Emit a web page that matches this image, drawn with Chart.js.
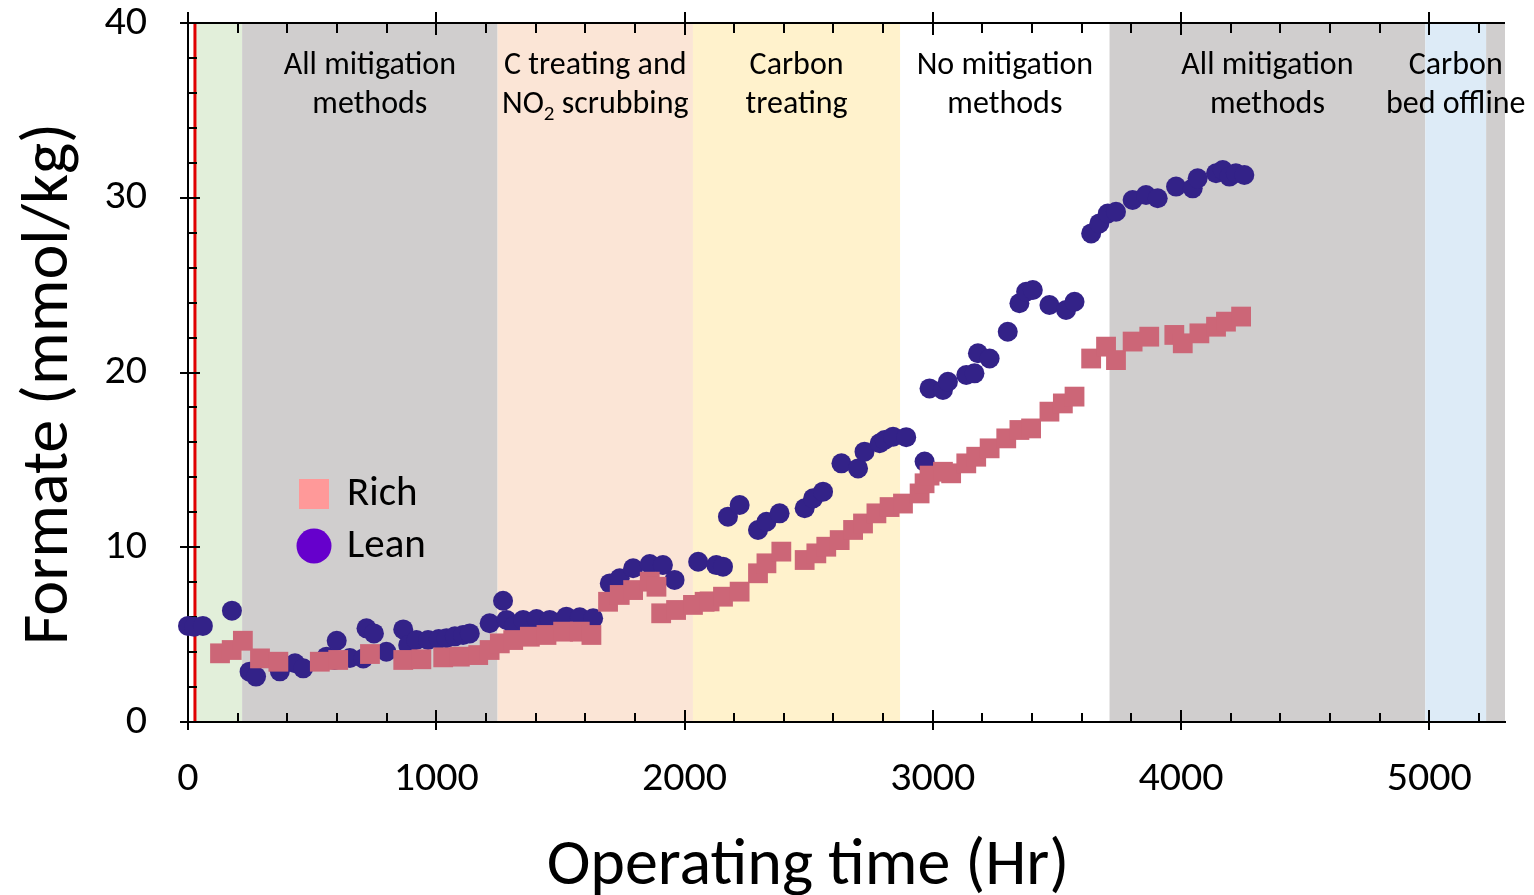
<!DOCTYPE html>
<html>
<head>
<meta charset="utf-8">
<script src="https://cdn.jsdelivr.net/npm/chart.js@4/dist/chart.umd.min.js"></script>
<style>
  html, body { margin: 0; padding: 0; background: #fff; }
  #wrap { width: 1534px; height: 895px; }
</style>
</head>
<body>
<div id="wrap"><canvas id="c" width="1534" height="895"></canvas></div>
<script>
const FONT = "Carlito, Lato, 'Open Sans', sans-serif";

// Formate in the rich amine (mmol/kg) against operating hours
const richTime = [129, 176, 221, 290, 364, 531, 605, 733, 867, 940, 1028, 1095, 1169, 1215,
  1256, 1310, 1377, 1444, 1511, 1578, 1625, 1692, 1739, 1793, 1860, 1887, 1906, 1966, 2034,
  2081, 2101, 2155, 2222, 2296, 2330, 2390, 2484, 2531, 2571, 2625, 2679, 2719, 2773, 2826,
  2880, 2947, 2967, 2987, 3041, 3074, 3135, 3175, 3229, 3296, 3349, 3396, 3470, 3524, 3571,
  3638, 3698, 3738, 3805, 3872, 3973, 4007, 4074, 4141, 4181, 4242];
const richFormate = [3.93, 4.12, 4.65, 3.64, 3.45, 3.45, 3.55, 3.89, 3.55, 3.59, 3.70, 3.74, 3.83, 4.12,
  4.50, 4.69, 4.88, 4.98, 5.17, 5.17, 4.98, 6.88, 7.27, 7.55, 8.03, 7.74, 6.22, 6.41, 6.70,
  6.88, 6.90, 7.17, 7.46, 8.51, 9.08, 9.75, 9.27, 9.65, 10.03, 10.41, 10.99, 11.36, 11.94, 12.30,
  12.50, 13.08, 13.66, 14.10, 14.32, 14.23, 14.80, 15.18, 15.66, 16.23, 16.71, 16.80, 17.76, 18.23, 18.62,
  20.80, 21.48, 20.71, 21.77, 22.05, 22.15, 21.67, 22.24, 22.62, 22.91, 23.20];

// Formate in the lean amine (mmol/kg) against operating hours
const leanTime = [0, 25, 60, 177, 248, 274, 370, 431, 464, 558, 591, 599, 652, 706, 719, 749,
  799, 867, 887, 920, 967, 1010, 1041, 1075, 1108, 1135, 1215, 1269, 1283, 1313, 1350, 1404,
  1457, 1524, 1578, 1632, 1699, 1739, 1793, 1860, 1913, 1960, 2055, 2128, 2155, 2175, 2222,
  2296, 2330, 2383, 2484, 2518, 2558, 2632, 2699, 2725, 2786, 2806, 2840, 2893, 2967, 2987,
  3041, 3061, 3135, 3168, 3182, 3229, 3302, 3349, 3376, 3403, 3470, 3537, 3571, 3638, 3671,
  3705, 3738, 3805, 3859, 3906, 3980, 4047, 4067, 4141, 4168, 4195, 4221, 4255];
const leanFormate = [5.50, 5.45, 5.50, 6.37, 2.88, 2.60, 2.90, 3.36, 3.07, 3.74, 3.55, 4.65, 3.66, 3.64, 5.36, 5.07,
  4.02, 5.30, 4.40, 4.69, 4.69, 4.75, 4.79, 4.90, 4.98, 5.07, 5.65, 6.94, 5.84, 5.50, 5.84, 5.89,
  5.84, 6.03, 5.99, 5.93, 7.93, 8.22, 8.80, 9.04, 8.98, 8.13, 9.17, 8.98, 8.89, 11.75, 12.42,
  10.99, 11.46, 11.94, 12.23, 12.80, 13.18, 14.80, 14.51, 15.47, 15.95, 16.14, 16.33, 16.30, 14.90, 19.09,
  19.00, 19.47, 19.86, 19.95, 21.10, 20.80, 22.33, 23.96, 24.62, 24.72, 23.86, 23.58, 24.05, 27.96, 28.53,
  29.10, 29.20, 29.87, 30.16, 29.97, 30.64, 30.54, 31.11, 31.40, 31.59, 31.21, 31.40, 31.30];

// Operating periods (hours) and their labels
const bandStart = [30, 218, 1247, 2034, 2869, 3712, 4984, 5229];
const bandEnd   = [218, 1247, 2034, 2869, 3712, 4984, 5229, 5305];
const bandColor = ['#E2EFDA', '#D0CECE', '#FBE5D6', '#FFF2CC', '#FFFFFF', '#D0CECE', '#DDEBF7', '#D0CECE'];
const bandLabel = [null, ['All mitigation', 'methods'], ['C treating and', 'NO\u2082 scrubbing'],
  ['Carbon', 'treating'], ['No mitigation', 'methods'], ['All mitigation', 'methods'],
  ['Carbon', 'bed offline'], null];
const startupTime = 28;

const xTicks = [0, 1000, 2000, 3000, 4000, 5000];
const yTicks = [0, 10, 20, 30, 40];
const xMax = 5305, yMax = 40, xMinorStep = 200, yMinorStep = 2;

const seriesNames = ['Rich', 'Lean'];
const legendColors = ['#FF9999', '#6600CC'];

const toPoints = (xs, ys) => xs.map((x, i) => ({ x: x, y: ys[i] }));

// Draw a line of text that may contain a subscript 2
function drawLabelLine(ctx, text, cx, cy, size) {
  const parts = text.split('\u2082');
  const subSize = Math.round(size * 0.65);
  let total = 0;
  parts.forEach((p, i) => {
    ctx.font = size + 'px ' + FONT;
    total += ctx.measureText(p).width;
    if (i < parts.length - 1) { ctx.font = subSize + 'px ' + FONT; total += ctx.measureText('2').width; }
  });
  let x = cx - total / 2;
  ctx.textAlign = 'left';
  ctx.textBaseline = 'middle';
  parts.forEach((p, i) => {
    ctx.font = size + 'px ' + FONT;
    ctx.fillText(p, x, cy);
    x += ctx.measureText(p).width;
    if (i < parts.length - 1) {
      ctx.font = subSize + 'px ' + FONT;
      ctx.fillText('2', x, cy + size * 0.3);
      x += ctx.measureText('2').width;
    }
  });
}

const framePlugin = {
  id: 'frame',
  beforeDraw(chart) {
    const { ctx, chartArea: a, scales: { x } } = chart;
    ctx.save();
    ctx.fillStyle = '#fff';
    ctx.fillRect(0, 0, chart.width, chart.height);
    bandStart.forEach((s, i) => {
      const x0 = x.getPixelForValue(s), x1 = x.getPixelForValue(bandEnd[i]);
      ctx.fillStyle = bandColor[i];
      ctx.fillRect(x0, a.top, x1 - x0, a.bottom - a.top);
    });
    ctx.fillStyle = '#000';
    bandLabel.forEach((lines, i) => {
      if (!lines) return;
      const cx = (x.getPixelForValue(bandStart[i]) + x.getPixelForValue(bandEnd[i])) / 2;
      lines.forEach((ln, j) => drawLabelLine(ctx, ln, cx, a.top + 43 + j * 39, 32));
    });
    ctx.restore();
  },
  beforeDatasetsDraw(chart) {
    const { ctx, chartArea: a, scales: { x, y } } = chart;
    ctx.save();
    // start-up marker
    const rx = x.getPixelForValue(startupTime);
    ctx.strokeStyle = '#E00000';
    ctx.lineWidth = 3;
    ctx.beginPath(); ctx.moveTo(rx, a.top); ctx.lineTo(rx, a.bottom); ctx.stroke();
    // top frame line
    ctx.strokeStyle = '#000';
    ctx.lineWidth = 2;
    ctx.beginPath(); ctx.moveTo(a.left, a.top); ctx.lineTo(a.right, a.top); ctx.stroke();
    // x tick marks, bottom and top
    ctx.beginPath();
    for (let v = 0; v <= xMax; v += xMinorStep) {
      const px = Math.round(x.getPixelForValue(v));
      const major = xTicks.includes(v);
      ctx.moveTo(px, a.bottom + (major ? 8 : 0)); ctx.lineTo(px, a.bottom - (major ? 12 : 9));
      ctx.moveTo(px, a.top - (major ? 11 : 0)); ctx.lineTo(px, a.top + (major ? 12 : 10));
    }
    // y tick marks
    for (let v = 0; v <= yMax; v += yMinorStep) {
      const py = Math.round(y.getPixelForValue(v));
      const major = yTicks.includes(v);
      ctx.moveTo(a.left - (major ? 8 : 0), py); ctx.lineTo(a.left + (major ? 12 : 9), py);
    }
    ctx.stroke();
    ctx.restore();
  },
  afterDraw(chart) {
    const { ctx, chartArea: a } = chart;
    ctx.save();
    ctx.fillStyle = '#000';
    ctx.textAlign = 'center';
    ctx.textBaseline = 'alphabetic';
    ctx.font = '66px ' + FONT;
    ctx.fillText('Operating time (Hr)', 808, 884);
    ctx.translate(67, 384);
    ctx.rotate(-Math.PI / 2);
    ctx.fillText('Formate (mmol/kg)', 0, 0);
    ctx.restore();
    // legend
    ctx.save();
    const lx = a.left + 126, ly = a.top + 471;
    ctx.fillStyle = legendColors[0];
    ctx.fillRect(lx - 15, ly - 15, 30, 30);
    ctx.fillStyle = legendColors[1];
    ctx.beginPath(); ctx.arc(lx, ly + 52, 17.5, 0, Math.PI * 2); ctx.fill();
    ctx.fillStyle = '#000';
    ctx.font = '41px ' + FONT;
    ctx.textAlign = 'left';
    ctx.textBaseline = 'middle';
    ctx.fillText(seriesNames[0], lx + 33, ly + 1);
    ctx.fillText(seriesNames[1], lx + 33, ly + 53);
    ctx.restore();
  }
};

new Chart(document.getElementById('c'), {
  type: 'scatter',
  data: {
    datasets: [
      { label: seriesNames[0], data: toPoints(richTime, richFormate), pointStyle: 'rect',
        pointRadius: 14, backgroundColor: '#CC6677', borderWidth: 0, clip: false },
      { label: seriesNames[1], data: toPoints(leanTime, leanFormate), pointStyle: 'circle',
        pointRadius: 10, backgroundColor: '#332288', borderWidth: 0, clip: false }
    ]
  },
  options: {
    responsive: false,
    animation: false,
    devicePixelRatio: 1,
    events: [],
    layout: { padding: { top: 23, right: 29, left: 0, bottom: 0 } },
    plugins: { legend: { display: false }, tooltip: { enabled: false } },
    scales: {
      x: {
        type: 'linear', min: 0, max: xMax,
        afterFit(s) { s.height = 173; s.paddingLeft = 0; s.paddingRight = 0; },
        afterBuildTicks(s) { s.ticks = xTicks.map(v => ({ value: v })); },
        grid: { display: false, drawTicks: false },
        border: { display: true, color: '#000', width: 2 },
        ticks: { font: { family: FONT, size: 42 }, color: '#000', padding: 32, autoSkip: false,
                 maxRotation: 0, callback: v => String(v) }
      },
      y: {
        type: 'linear', min: 0, max: yMax,
        afterFit(s) { s.width = 188; s.paddingTop = 0; s.paddingBottom = 0; },
        afterBuildTicks(s) { s.ticks = yTicks.map(v => ({ value: v })); },
        grid: { display: false, drawTicks: false },
        border: { display: true, color: '#000', width: 2 },
        ticks: { font: { family: FONT, size: 42 }, color: '#000', padding: 41, callback: v => String(v) }
      }
    }
  },
  plugins: [framePlugin]
});
</script>
</body>
</html>
